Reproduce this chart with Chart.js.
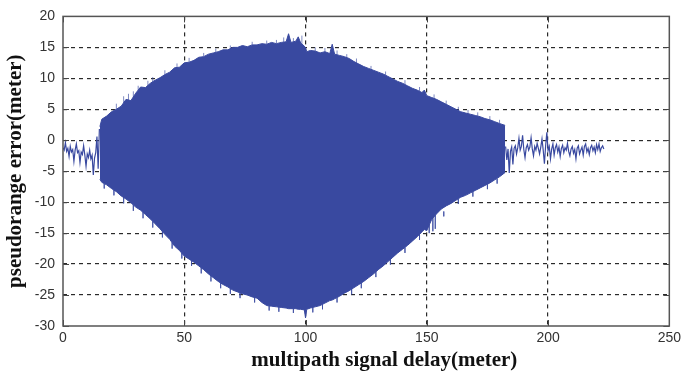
<!DOCTYPE html>
<html lang="en">
<head>
<meta charset="utf-8">
<title>pseudorange error</title>
<script src="https://cdn.jsdelivr.net/npm/chart.js@4.4.1/dist/chart.umd.min.js"></script>
<style>
  html, body { margin: 0; padding: 0; background: #fff; }
  #zone { width: 685px; height: 380px; }
</style>
</head>
<body>
<div id="zone"><canvas id="chart-erreur" width="685" height="380"></canvas></div>
<script>
// Graduations des axes
const graduationsX = [0, 50, 100, 150, 200, 250];
const graduationsY = [-30, -25, -20, -15, -10, -5, 0, 5, 10, 15, 20];

// Zone dense : enveloppe haute / basse de l'erreur (m) selon le retard (m)
const retard = [
  15.2, 16, 18, 20, 22, 24, 26, 28, 30, 32,
  34, 36, 38, 40, 42, 44, 46, 48, 50, 52,
  54, 56, 58, 60, 62, 64, 66, 68, 70, 72,
  74, 76, 78, 80, 82, 84, 86, 88, 90, 92,
  93, 94, 96, 97, 98, 99.5, 100, 100.5, 102, 104,
  106, 108, 110, 111, 112, 114, 116, 118, 120, 122,
  124, 126, 128, 130, 132, 134, 136, 138, 140, 142,
  144, 146, 148, 149, 150, 152, 154, 156, 158, 160,
  162, 164, 166, 168, 170, 172, 174, 176, 178, 180,
  182.3
];
const erreurMax = [
  2.2, 3.4, 3.9, 4.6, 5.0, 5.5, 6.6, 6.4, 7.6, 8.6,
  8.5, 9.2, 9.7, 10.1, 10.6, 11.0, 11.7, 11.8, 12.5, 12.6,
  12.9, 13.4, 13.5, 13.9, 14.1, 14.3, 14.6, 14.6, 15.0, 15.0,
  15.3, 15.1, 15.4, 15.4, 15.6, 15.5, 15.8, 15.6, 15.8, 15.9,
  17.2, 15.8, 16.0, 16.7, 15.7, 15.2, 14.9, 14.3, 14.5, 14.4,
  14.1, 14.3, 14.0, 15.5, 13.9, 13.7, 13.5, 13.2, 12.7, 12.3,
  11.9, 11.6, 11.3, 11.0, 10.7, 10.3, 9.9, 9.5, 9.2, 8.8,
  8.4, 8.1, 7.7, 8.1, 7.2, 6.9, 6.6, 6.2, 5.8, 5.4,
  5.0, 4.6, 4.4, 4.2, 4.0, 3.8, 3.5, 3.3, 3.0, 2.7,
  2.4
];
const erreurMin = [
  -6.3, -6.8, -7.2, -7.8, -8.3, -9.0, -9.5, -10.1, -10.8, -11.3,
  -12.0, -12.7, -13.5, -14.3, -15.2, -16.0, -17.1, -17.8, -18.7, -19.2,
  -19.7, -20.3, -20.9, -21.6, -22.2, -22.8, -23.3, -23.7, -24.2, -24.5,
  -24.8, -25.0, -25.3, -25.5, -26.2, -26.7, -26.8, -26.9, -27.0, -27.1,
  -27.2, -27.2, -27.2, -27.3, -27.3, -27.4, -28.7, -27.3, -27.1, -26.9,
  -26.7, -26.3, -25.9, -25.8, -25.6, -25.2, -24.7, -24.3, -23.8, -23.3,
  -22.8, -22.2, -21.6, -20.9, -20.3, -19.6, -18.9, -18.2, -17.6, -17.0,
  -16.3, -15.6, -14.8, -14.4, -14.6, -12.8, -11.9, -11.1, -10.6, -10.2,
  -9.7, -9.2, -8.9, -8.5, -8.1, -7.7, -7.3, -6.9, -6.4, -5.9,
  -5.2
];

// Pics isolés qui dépassent de l'enveloppe (pied -> pointe)
const picsHautX = [
  22, 25, 27, 29, 31, 35, 37, 42, 47, 52,
  58, 63, 69, 78, 84, 88, 91, 95, 98.5, 104,
  108, 113, 117, 121, 127, 133, 141, 147, 153, 158,
  163, 167, 171, 176, 180
];
const picsHautPied = [
  5.0, 6.0, 6.5, 7.0, 8.1, 8.8, 9.4, 10.6, 11.7, 12.6,
  13.5, 14.2, 14.8, 15.4, 15.5, 15.6, 15.8, 15.9, 15.5, 14.4,
  14.3, 13.8, 13.3, 12.5, 11.4, 10.5, 9.0, 7.9, 6.7, 5.8,
  4.8, 4.3, 3.9, 3.3, 2.7
];
const picsHautPointe = [
  5.9, 7.1, 7.5, 7.9, 8.8, 9.6, 10.2, 11.3, 12.4, 13.3,
  14.1, 14.8, 15.3, 15.9, 16.1, 16.2, 16.6, 16.5, 16.9, 15.0,
  14.9, 14.5, 13.9, 13.2, 12.0, 11.1, 9.7, 8.6, 7.4, 6.4,
  5.4, 4.9, 4.5, 3.9, 3.3
];
const picsBasX = [
  17, 21, 25, 29, 33, 37, 41, 45, 49, 53,
  57, 61, 65, 69, 73, 79, 85, 89, 95, 103,
  107, 113, 119, 123, 129, 135, 141, 147, 151, 152.5,
  153.5, 157, 163, 169, 175, 179
];
const picsBasPied = [
  -7.0, -8.0, -9.2, -10.4, -11.6, -13.1, -14.7, -16.5, -18.2, -19.4,
  -20.6, -21.9, -23.0, -23.9, -24.6, -25.4, -26.7, -26.9, -27.2, -27.0,
  -26.5, -25.4, -24.0, -23.0, -21.2, -19.2, -17.3, -15.2, -13.7, -12.5,
  -12.1, -11.5, -9.5, -8.3, -7.1, -6.2
];
const picsBasPointe = [
  -7.8, -8.9, -10.2, -11.4, -12.6, -14.1, -15.7, -17.5, -19.1, -20.3,
  -21.5, -22.8, -23.9, -24.8, -25.5, -26.2, -27.5, -27.7, -27.9, -27.8,
  -27.3, -26.2, -24.9, -23.9, -22.1, -20.1, -18.2, -16.1, -15.0, -14.7,
  -14.3, -12.3, -10.3, -9.1, -7.9, -7.0
];

// Signal avant la zone dense
const retardGauche = [
  0, 0.5, 1, 1.5, 2, 2.5, 3, 3.5, 4, 4.5,
  5, 5.5, 6, 6.5, 7, 7.5, 8, 8.5, 9, 9.5,
  10, 10.5, 11, 11.5, 12, 12.5, 13, 13.5, 14, 14.5,
  15
];
const erreurGauche = [
  -1.2, -1.6, -0.4, -1.8, -1.3, -2.6, -1.0, -1.9, -1.5, -3.4,
  -1.6, -0.6, -2.0, -1.7, -3.6, -1.9, -2.3, -0.9, -2.4, -4.2,
  -2.2, -2.8, -1.6, -3.0, -2.4, -5.6, -2.9, -2.0, 0.6, -4.6,
  1.8
];

// Signal après la zone dense
const retardDroite = [
  182.5, 183, 183.5, 184, 184.5, 185, 185.5, 186, 186.5, 187,
  187.5, 188, 188.5, 189, 189.5, 190, 190.5, 191, 191.5, 192,
  192.5, 193, 193.5, 194, 194.5, 195, 195.5, 196, 196.5, 197,
  197.5, 198, 198.5, 199, 199.5, 200, 200.5, 201, 201.5, 202,
  202.5, 203, 203.5, 204, 204.5, 205, 205.5, 206, 206.5, 207,
  207.5, 208, 208.5, 209, 209.5, 210, 210.5, 211, 211.5, 212,
  212.5, 213, 213.5, 214, 214.5, 215, 215.5, 216, 216.5, 217,
  217.5, 218, 218.5, 219, 219.5, 220, 220.5, 221, 221.5, 222,
  222.5, 223
];
const erreurDroite = [
  -1.0, -3.2, -1.4, -5.3, -1.8, -1.1, -3.9, -1.3, -0.9, -2.2,
  -1.2, 0.3, -1.6, -1.0, 0.8, -1.5, -2.8, -1.2, -0.7, -1.6,
  -1.1, 0.4, -1.4, -2.5, -1.0, -1.6, -0.5, -1.3, -2.2, -1.1,
  0.2, -1.6, -3.8, -0.9, 1.3, -1.7, -1.0, -3.0, -1.4, -0.6,
  -2.4, -1.2, -0.7, -1.9, -1.1, -2.6, -1.3, -0.8, -2.0, -1.2,
  -1.6, -0.5, -1.8, -2.5, -1.4, -1.0, -2.1, -1.5, -3.0, -1.3,
  -0.9, -2.2, -1.6, -1.1, -2.4, -1.0, -0.6, -1.9, -1.3, -2.3,
  -1.2, -0.8, -1.7, -1.1, -2.0, -0.7, -1.5, -0.6, -1.8, -1.2,
  -0.9, -1.4
];

const BLEU = 'rgb(57, 73, 160)';
const BLEU_PALE = 'rgba(57, 73, 160, 0.65)';
const GRILLE = '#2a2a2a';

const points = (xs, ys) => xs.map((x, i) => ({ x: x, y: ys[i] }));

// segments verticaux séparés par un trou (y null)
const segments = (xs, pieds, pointes) => xs.flatMap((x, i) => [
  { x: x, y: pieds[i] }, { x: x, y: pointes[i] }, { x: x, y: null }
]);

// Cadre, petites graduations intérieures et titre de l'axe x
const cadre = {
  id: 'cadre',
  afterDatasetsDraw(chart) {
    const { ctx, chartArea: a, scales } = chart;
    ctx.save();
    ctx.strokeStyle = '#444';
    ctx.lineWidth = 1;
    ctx.beginPath();
    graduationsX.forEach(v => {
      const px = Math.round(scales.x.getPixelForValue(v)) + 0.5;
      ctx.moveTo(px, a.bottom); ctx.lineTo(px, a.bottom - 6);
      ctx.moveTo(px, a.top); ctx.lineTo(px, a.top + 6);
    });
    graduationsY.forEach(v => {
      const py = Math.round(scales.y.getPixelForValue(v)) + 0.5;
      ctx.moveTo(a.left, py); ctx.lineTo(a.left + 6, py);
      ctx.moveTo(a.right, py); ctx.lineTo(a.right - 6, py);
    });
    ctx.stroke();
    ctx.lineWidth = 1.5;
    ctx.strokeStyle = '#555';
    ctx.strokeRect(a.left, a.top, a.right - a.left, a.bottom - a.top);

    ctx.fillStyle = '#111';
    ctx.font = 'bold 21px "Liberation Serif"';
    ctx.textAlign = 'center';
    ctx.textBaseline = 'middle';
    ctx.fillText('multipath signal delay(meter)', a.left + (a.right - a.left) * 0.53, 361);
    ctx.restore();
  }
};

// pas de ligne pointillée sur les bords du cadre
const couleurGrille = (bornes) => (c) =>
  (c.tick && bornes.includes(c.tick.value)) ? 'rgba(0,0,0,0)' : GRILLE;

new Chart(document.getElementById('chart-erreur'), {
  type: 'line',
  data: {
    datasets: [
      {
        data: points(retard, erreurMax),
        borderColor: BLEU,
        backgroundColor: BLEU,
        borderWidth: 1,
        pointRadius: 0,
        fill: '+1'
      },
      {
        data: points(retard, erreurMin),
        borderColor: BLEU,
        borderWidth: 1,
        pointRadius: 0,
        fill: false
      },
      {
        data: segments(picsHautX, picsHautPied, picsHautPointe),
        borderColor: BLEU_PALE,
        borderWidth: 1,
        pointRadius: 0,
        spanGaps: false,
        fill: false
      },
      {
        data: segments(picsBasX, picsBasPied, picsBasPointe),
        borderColor: BLEU_PALE,
        borderWidth: 1,
        pointRadius: 0,
        spanGaps: false,
        fill: false
      },
      {
        data: points(retardGauche, erreurGauche),
        borderColor: BLEU,
        borderWidth: 1.2,
        pointRadius: 0,
        fill: false
      },
      {
        data: points(retardDroite, erreurDroite),
        borderColor: BLEU,
        borderWidth: 1.2,
        pointRadius: 0,
        fill: false
      }
    ]
  },
  options: {
    responsive: false,
    animation: false,
    devicePixelRatio: 1,
    layout: {
      padding: { left: 0, top: 11, right: 13, bottom: 0 }
    },
    plugins: {
      legend: { display: false },
      tooltip: { enabled: false }
    },
    scales: {
      x: {
        type: 'linear',
        min: 0,
        max: 250,
        afterBuildTicks: s => { s.ticks = graduationsX.map(v => ({ value: v })); },
        afterFit: s => { s.height = 54; },
        ticks: {
          padding: 4,
          color: '#333',
          font: { family: 'Liberation Sans', size: 14 }
        },
        grid: {
          color: couleurGrille([0, 250]),
          lineWidth: 1.2,
          drawTicks: false
        },
        border: { display: false, dash: [4, 4] },
        title: { display: false }
      },
      y: {
        min: -30,
        max: 20,
        afterBuildTicks: s => { s.ticks = graduationsY.map(v => ({ value: v })); },
        afterFit: s => { s.width = 63; },
        ticks: {
          padding: 8,
          color: '#333',
          font: { family: 'Liberation Sans', size: 14 }
        },
        grid: {
          color: couleurGrille([-30, 20]),
          lineWidth: 1.2,
          drawTicks: false
        },
        border: { display: false, dash: [4, 4] },
        title: {
          display: true,
          text: 'pseudorange error(meter)',
          color: '#111',
          padding: { top: 3, bottom: 0 },
          font: { family: 'Liberation Serif', size: 21, weight: 'bold' }
        }
      }
    }
  },
  plugins: [cadre]
});
</script>
</body>
</html>
